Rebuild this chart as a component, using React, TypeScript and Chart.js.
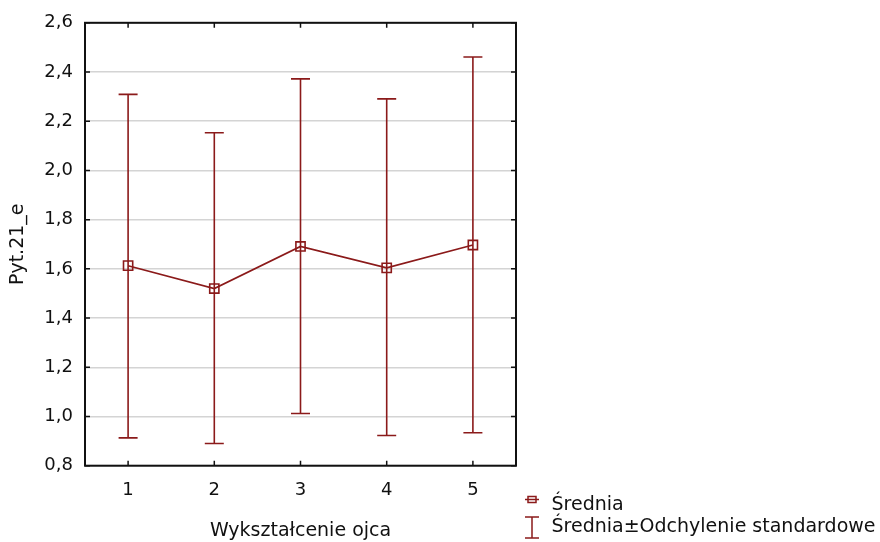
import React, { useEffect, useRef } from "react";
import { Chart, registerables } from "chart.js";

Chart.register(...registerables);

const categories = [1, 2, 3, 4, 5];
const means = [1.613, 1.52, 1.691, 1.604, 1.697];
const upper = [2.309, 2.153, 2.372, 2.291, 2.461];
const lower = [0.913, 0.89, 1.012, 0.923, 0.934];
const xTitle = "Wykształcenie ojca";
const yTitle = "Pyt.21_e";
const legendMean = "Średnia";
const legendSd = "Średnia±Odchylenie standardowe";

const RED = "#8b1a1a";
const FONT = "'DejaVu Sans', 'Liberation Sans', Arial, sans-serif";
const TEXT = "#111";
const FS = 18;
const FS_T = 19;

const errorBarPlugin = {
  id: "errorBars",
  beforeDatasetsDraw(chart: any) {
    const { ctx, scales } = chart;
    const xs = scales.x, ys = scales.y;
    ctx.save();
    ctx.strokeStyle = RED;
    ctx.lineWidth = 1.6;
    categories.forEach((c, i) => {
      const x = xs.getPixelForValue(c);
      const yt = ys.getPixelForValue(upper[i]);
      const yb = ys.getPixelForValue(lower[i]);
      ctx.beginPath();
      ctx.moveTo(x, yt);
      ctx.lineTo(x, yb);
      ctx.moveTo(x - 9.5, yt);
      ctx.lineTo(x + 9.5, yt);
      ctx.moveTo(x - 9.5, yb);
      ctx.lineTo(x + 9.5, yb);
      ctx.stroke();
    });
    ctx.restore();
  },
};

const framePlugin = {
  id: "frame",
  afterDatasetsDraw(chart: any) {
    const { ctx, chartArea, scales } = chart;
    const { left, right, top, bottom } = chartArea;
    ctx.save();
    ctx.strokeStyle = "#111";
    ctx.lineWidth = 1.5;
    ctx.beginPath();
    scales.x.ticks.forEach((t: any) => {
      const x = scales.x.getPixelForValue(t.value);
      ctx.moveTo(x, top);
      ctx.lineTo(x, top + 5);
      ctx.moveTo(x, bottom);
      ctx.lineTo(x, bottom - 5);
    });
    scales.y.ticks.forEach((t: any) => {
      const y = scales.y.getPixelForValue(t.value);
      ctx.moveTo(left, y);
      ctx.lineTo(left + 5, y);
      ctx.moveTo(right, y);
      ctx.lineTo(right - 5, y);
    });
    ctx.stroke();
    ctx.lineWidth = 2;
    ctx.strokeRect(left, top, right - left, bottom - top);
    ctx.restore();
  },
};

const legendPlugin = {
  id: "customLegend",
  afterDraw(chart: any) {
    const { ctx } = chart;
    ctx.save();
    ctx.strokeStyle = RED;
    ctx.lineWidth = 1.5;
    // mean symbol
    const y1 = 499.5;
    ctx.beginPath();
    ctx.moveTo(525, y1);
    ctx.lineTo(539, y1);
    ctx.stroke();
    ctx.strokeRect(528, y1 - 3, 8, 6);
    // sd symbol
    ctx.beginPath();
    ctx.moveTo(532, 517);
    ctx.lineTo(532, 538);
    ctx.moveTo(525, 517);
    ctx.lineTo(539, 517);
    ctx.moveTo(525, 538);
    ctx.lineTo(539, 538);
    ctx.stroke();
    ctx.fillStyle = TEXT;
    ctx.font = `${FS_T}px ${FONT}`;
    ctx.textAlign = "left";
    ctx.textBaseline = "alphabetic";
    ctx.fillText(legendMean, 551.5, 510);
    ctx.fillText(legendSd, 551.5, 531.7);
    ctx.restore();
  },
};

export default function App() {
  const ref = useRef<HTMLCanvasElement | null>(null);
  useEffect(() => {
    if (!ref.current) return;
    const chart = new Chart(ref.current, {
      type: "line",
      data: {
        datasets: [
          {
            label: legendMean,
            data: categories.map((c, i) => ({ x: c, y: means[i] })),
            borderColor: RED,
            borderWidth: 1.6,
            pointStyle: "rect",
            pointRadius: 6.5,
            pointBorderWidth: 1.6,
            pointBorderColor: RED,
            pointBackgroundColor: "rgba(0,0,0,0)",
            fill: false,
            tension: 0,
          },
        ],
      },
      options: {
        animation: false,
        responsive: false,
        layout: { padding: { top: 20, right: 364, left: 0, bottom: 0 } },
        plugins: { legend: { display: false }, tooltip: { enabled: false } },
        scales: {
          x: {
            type: "linear",
            min: 0.5,
            max: 5.5,
            afterBuildTicks: (scale: any) => {
              scale.ticks = categories.map((v) => ({ value: v }));
            },
            afterFit: (scale: any) => {
              scale.height = 76.3;
            },
            grid: { display: false, drawTicks: false },
            border: { display: false },
            ticks: {
              padding: 14,
              color: TEXT,
              font: { family: FONT, size: FS },
              callback: (v: any) => String(v),
            },
            title: {
              display: true,
              text: xTitle,
              color: TEXT,
              font: { family: FONT, size: FS_T },
              padding: { top: 0, bottom: 0 },
            },
          },
          y: {
            type: "linear",
            min: 0.8,
            max: 2.6,
            afterFit: (scale: any) => {
              scale.width = 85;
            },
            grid: { color: "#d4d4d4", lineWidth: 1.5, drawTicks: false },
            border: { display: false },
            ticks: {
              stepSize: 0.2,
              padding: 12,
              color: TEXT,
              font: { family: FONT, size: FS },
              callback: (v: any) => Number(v).toFixed(1).replace(".", ","),
            },
            title: {
              display: true,
              text: yTitle,
              color: TEXT,
              font: { family: FONT, size: FS_T },
              padding: { top: 6.5, bottom: 0 },
            },
          },
        },
      },
      plugins: [errorBarPlugin, framePlugin, legendPlugin],
    } as any);
    return () => chart.destroy();
  }, []);
  return (
    <div style={{ position: "fixed", left: 0, top: 0, width: 880, height: 542, background: "#fff" }}>
      <canvas ref={ref} width={880} height={542} />
    </div>
  );
}
